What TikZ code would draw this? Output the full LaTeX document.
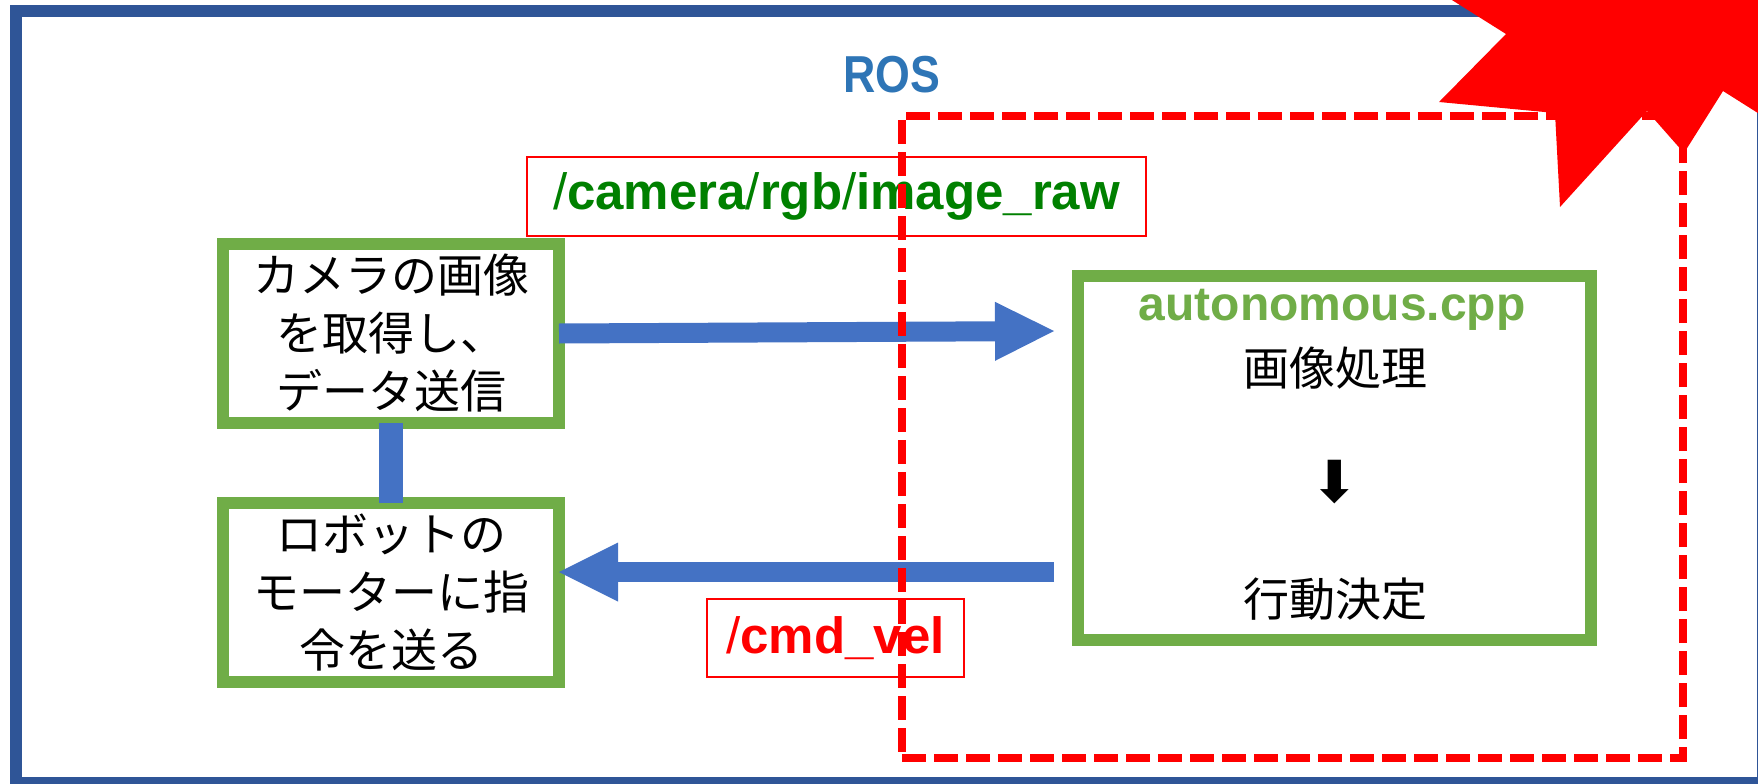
\documentclass[tikz,border=0pt]{standalone}
\usepackage{fontspec}
\setmainfont{Noto Sans CJK JP}
\newfontfamily\lsans{Liberation Sans}
\newfontfamily\djv{DejaVu Sans}
\usetikzlibrary{arrows.meta}

\definecolor{frameblue}{HTML}{2F5597}
\definecolor{boxgreen}{HTML}{70AD47}
\definecolor{arrowblue}{HTML}{4472C4}
\definecolor{rosblue}{HTML}{2E75B6}
\definecolor{topicgreen}{HTML}{008000}

\tikzset{
  gbox/.style={draw=boxgreen, line width=12pt, fill=white, inner sep=0pt,
    outer sep=0pt, align=center, font=\fontsize{46}{58}\selectfont},
  topicbox/.style={draw=red, line width=2pt, inner sep=0pt, outer sep=0pt,
    font=\lsans\bfseries\fontsize{51}{51}\selectfont},
  flowarrow/.style={draw=arrowblue, line width=20pt,
    -{Triangle[length=59pt,width=59pt,line width=0pt]}},
  jptext/.style={font=\fontsize{46}{46}\selectfont, inner sep=0pt, anchor=base},
}

\begin{document}
\begin{tikzpicture}[x=1pt,y=-1pt]
  \clip (0,0) rectangle (1758,784);

  % outer ROS frame
  \draw[frameblue, line width=12pt] (16,11) rectangle (1763,783);
  \node[text=rosblue, inner sep=0pt,
        font=\lsans\bfseries\fontsize{52}{52}\selectfont] (ros) at (891.5,74.5)
        {\scalebox{0.86}[1]{ROS}};

  % processing boxes
  \node[gbox, minimum width=336pt, minimum height=179pt] (cam) at (391,333.5)
        {カメラの画像\\を取得し、\\データ送信};
  \node[gbox, minimum width=336pt, minimum height=179pt] (motor) at (391,592.5)
        {ロボットの\\モーターに指\\令を送る};
  \node[gbox, minimum width=513pt, minimum height=364pt] (auto) at (1334.5,458) {};

  \node[anchor=base, inner sep=0pt, text=boxgreen,
        font=\lsans\bfseries\fontsize{48}{48}\selectfont] (cpp) at (1332,320)
        {autonomous.cpp};
  \node[jptext] (proc) at (1335,385) {画像処理};
  \node[inner sep=0pt, font=\djv\fontsize{58}{58}\selectfont] (step) at (1334.5,482) {⬇};
  \node[jptext] (decide) at (1335,616) {行動決定};

  % connectors
  \coordinate (sendend) at (1054,331);
  \coordinate (cmdstart) at (1054,572);
  \draw[arrowblue, line width=24pt] (cam.south) -- (motor.north);
  \draw[flowarrow] (cam.east) -- (sendend);
  \draw[flowarrow] (cmdstart) -- (cmdstart -| motor.east);

  % topic labels
  \node[topicbox, minimum width=619pt, minimum height=79pt, text=topicgreen] (imgtopic)
        at (836.5,196.5) {{\mdseries /}camera{\mdseries /}rgb{\mdseries /}image\_raw};
  \node[topicbox, minimum width=257pt, minimum height=78pt, text=red] (veltopic)
        at (835.5,638) {{\mdseries /}cmd\_vel};

  % dashed region
  \node[draw=red, line width=8pt, dash pattern=on 24pt off 8pt, inner sep=0pt,
        minimum width=781pt, minimum height=642pt] (zone) at (1292.5,437) {};

  % red burst in the corner
  \fill[red] (1436,-10) -- (1506,34) -- (1439,102) -- (1555,113) -- (1560,207)
    -- (1647,111) -- (1684,153) -- (1723,91) -- (1780,127) -- (1780,-10) -- cycle;
\end{tikzpicture}
\end{document}
